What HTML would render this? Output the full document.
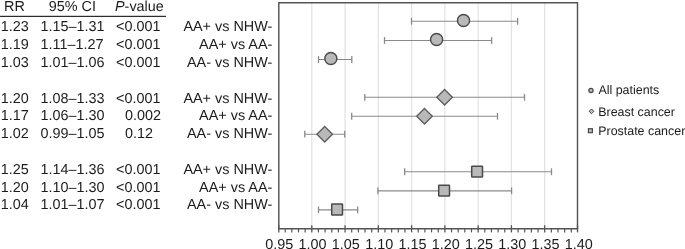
<!DOCTYPE html><html><head><meta charset="utf-8"><style>
html,body{margin:0;padding:0;background:#fff;}
svg{display:block;filter:blur(0.3px);}
text{font-family:"Liberation Sans",sans-serif;text-rendering:geometricPrecision;}
</style></head><body>
<svg width="685" height="249" viewBox="0 0 685 249">
<rect width="685" height="249" fill="#fff"/>
<g font-size="14.4" fill="#1c1c1c">
<text x="4.0" y="10.8">RR</text>
<text x="48.8" y="10.8">95% CI</text>
<text x="115.0" y="10.8"><tspan font-style="italic">P</tspan>-value</text>
</g>
<rect x="0" y="15.8" width="166" height="1.1" fill="#161616"/>
<g font-size="14.4" fill="#1c1c1c">
<text x="0.7" y="31.30">1.23</text>
<text x="40.6" y="31.30">1.15–1.31</text>
<text x="116.1" y="31.30">&lt;0.001</text>
<text x="272.3" y="31.30" text-anchor="end">AA+ vs NHW-</text>
<text x="0.7" y="49.10">1.19</text>
<text x="40.6" y="49.10">1.11–1.27</text>
<text x="116.1" y="49.10">&lt;0.001</text>
<text x="272.3" y="49.10" text-anchor="end">AA+ vs AA-</text>
<text x="0.7" y="66.90">1.03</text>
<text x="40.6" y="66.90">1.01–1.06</text>
<text x="116.1" y="66.90">&lt;0.001</text>
<text x="272.3" y="66.90" text-anchor="end">AA- vs NHW-</text>
<text x="0.7" y="102.50">1.20</text>
<text x="40.6" y="102.50">1.08–1.33</text>
<text x="116.1" y="102.50">&lt;0.001</text>
<text x="272.3" y="102.50" text-anchor="end">AA+ vs NHW-</text>
<text x="0.7" y="120.30">1.17</text>
<text x="40.6" y="120.30">1.06–1.30</text>
<text x="124.9" y="120.30">0.002</text>
<text x="272.3" y="120.30" text-anchor="end">AA+ vs AA-</text>
<text x="0.7" y="138.10">1.02</text>
<text x="40.6" y="138.10">0.99–1.05</text>
<text x="124.9" y="138.10">0.12</text>
<text x="272.3" y="138.10" text-anchor="end">AA- vs NHW-</text>
<text x="0.7" y="173.70">1.25</text>
<text x="40.6" y="173.70">1.14–1.36</text>
<text x="116.1" y="173.70">&lt;0.001</text>
<text x="272.3" y="173.70" text-anchor="end">AA+ vs NHW-</text>
<text x="0.7" y="191.50">1.20</text>
<text x="40.6" y="191.50">1.10–1.30</text>
<text x="116.1" y="191.50">&lt;0.001</text>
<text x="272.3" y="191.50" text-anchor="end">AA+ vs AA-</text>
<text x="0.7" y="209.30">1.04</text>
<text x="40.6" y="209.30">1.01–1.07</text>
<text x="116.1" y="209.30">&lt;0.001</text>
<text x="272.3" y="209.30" text-anchor="end">AA- vs NHW-</text>
</g>
<line x1="311.80" y1="3" x2="311.80" y2="228" stroke="#e3e3e3" stroke-width="1.25"/>
<line x1="345.07" y1="3" x2="345.07" y2="228" stroke="#e3e3e3" stroke-width="1.25"/>
<line x1="378.34" y1="3" x2="378.34" y2="228" stroke="#e3e3e3" stroke-width="1.25"/>
<line x1="411.61" y1="3" x2="411.61" y2="228" stroke="#e3e3e3" stroke-width="1.25"/>
<line x1="444.88" y1="3" x2="444.88" y2="228" stroke="#e3e3e3" stroke-width="1.25"/>
<line x1="478.15" y1="3" x2="478.15" y2="228" stroke="#e3e3e3" stroke-width="1.25"/>
<line x1="511.42" y1="3" x2="511.42" y2="228" stroke="#e3e3e3" stroke-width="1.25"/>
<line x1="544.69" y1="3" x2="544.69" y2="228" stroke="#e3e3e3" stroke-width="1.25"/>
<line x1="411.50" y1="21.3" x2="517.60" y2="21.3" stroke="#8a8a8a" stroke-width="1.1"/>
<line x1="411.50" y1="17.90" x2="411.50" y2="24.70" stroke="#8a8a8a" stroke-width="1.3"/>
<line x1="517.60" y1="17.90" x2="517.60" y2="24.70" stroke="#8a8a8a" stroke-width="1.3"/>
<line x1="384.50" y1="40.5" x2="491.60" y2="40.5" stroke="#8a8a8a" stroke-width="1.1"/>
<line x1="384.50" y1="37.10" x2="384.50" y2="43.90" stroke="#8a8a8a" stroke-width="1.3"/>
<line x1="491.60" y1="37.10" x2="491.60" y2="43.90" stroke="#8a8a8a" stroke-width="1.3"/>
<line x1="318.50" y1="59.5" x2="351.80" y2="59.5" stroke="#8a8a8a" stroke-width="1.1"/>
<line x1="318.50" y1="56.10" x2="318.50" y2="62.90" stroke="#8a8a8a" stroke-width="1.3"/>
<line x1="351.80" y1="56.10" x2="351.80" y2="62.90" stroke="#8a8a8a" stroke-width="1.3"/>
<line x1="364.80" y1="97.3" x2="524.50" y2="97.3" stroke="#8a8a8a" stroke-width="1.1"/>
<line x1="364.80" y1="93.90" x2="364.80" y2="100.70" stroke="#8a8a8a" stroke-width="1.3"/>
<line x1="524.50" y1="93.90" x2="524.50" y2="100.70" stroke="#8a8a8a" stroke-width="1.3"/>
<line x1="351.70" y1="116.25" x2="497.50" y2="116.25" stroke="#8a8a8a" stroke-width="1.1"/>
<line x1="351.70" y1="112.85" x2="351.70" y2="119.65" stroke="#8a8a8a" stroke-width="1.3"/>
<line x1="497.50" y1="112.85" x2="497.50" y2="119.65" stroke="#8a8a8a" stroke-width="1.3"/>
<line x1="304.80" y1="134.2" x2="344.70" y2="134.2" stroke="#8a8a8a" stroke-width="1.1"/>
<line x1="304.80" y1="130.80" x2="304.80" y2="137.60" stroke="#8a8a8a" stroke-width="1.3"/>
<line x1="344.70" y1="130.80" x2="344.70" y2="137.60" stroke="#8a8a8a" stroke-width="1.3"/>
<line x1="404.70" y1="171.75" x2="551.50" y2="171.75" stroke="#8a8a8a" stroke-width="1.1"/>
<line x1="404.70" y1="168.35" x2="404.70" y2="175.15" stroke="#8a8a8a" stroke-width="1.3"/>
<line x1="551.50" y1="168.35" x2="551.50" y2="175.15" stroke="#8a8a8a" stroke-width="1.3"/>
<line x1="377.90" y1="190.85" x2="511.60" y2="190.85" stroke="#8a8a8a" stroke-width="1.1"/>
<line x1="377.90" y1="187.45" x2="377.90" y2="194.25" stroke="#8a8a8a" stroke-width="1.3"/>
<line x1="511.60" y1="187.45" x2="511.60" y2="194.25" stroke="#8a8a8a" stroke-width="1.3"/>
<line x1="318.50" y1="209.85" x2="357.70" y2="209.85" stroke="#8a8a8a" stroke-width="1.1"/>
<line x1="318.50" y1="206.45" x2="318.50" y2="213.25" stroke="#8a8a8a" stroke-width="1.3"/>
<line x1="357.70" y1="206.45" x2="357.70" y2="213.25" stroke="#8a8a8a" stroke-width="1.3"/>
<circle cx="463.5" cy="20.5" r="6.05" fill="#b9b9b9" stroke="#4a4a4a" stroke-width="1.4"/>
<circle cx="436.6" cy="39.5" r="6.05" fill="#b9b9b9" stroke="#4a4a4a" stroke-width="1.4"/>
<circle cx="330.85" cy="58.5" r="6.05" fill="#b9b9b9" stroke="#4a4a4a" stroke-width="1.4"/>
<polygon points="444.6,89.5 452.40000000000003,97.3 444.6,105.1 436.8,97.3" fill="#b9b9b9" stroke="#5e5e5e" stroke-width="1.35"/>
<polygon points="424.5,108.4 432.3,116.2 424.5,124.0 416.7,116.2" fill="#b9b9b9" stroke="#5e5e5e" stroke-width="1.35"/>
<polygon points="324.7,126.39999999999999 332.5,134.2 324.7,142.0 316.9,134.2" fill="#b9b9b9" stroke="#5e5e5e" stroke-width="1.35"/>
<rect x="471.70" y="166.20" width="10.8" height="10.8" rx="0.5" fill="#b9b9b9" stroke="#4a4a4a" stroke-width="1.5"/>
<rect x="438.70" y="185.20" width="10.8" height="10.8" rx="0.5" fill="#b9b9b9" stroke="#4a4a4a" stroke-width="1.5"/>
<rect x="331.70" y="204.10" width="10.8" height="10.8" rx="0.5" fill="#b9b9b9" stroke="#4a4a4a" stroke-width="1.5"/>
<path d="M278.8,228.7 V2.8 H577.5 V228.7" fill="none" stroke="#555555" stroke-width="1.45"/>
<line x1="278.1" y1="228.7" x2="578.2" y2="228.7" stroke="#555555" stroke-width="1.4"/>
<line x1="278.80" y1="225.2" x2="278.80" y2="232.4" stroke="#555555" stroke-width="1.3"/>
<line x1="285.18" y1="228.7" x2="285.18" y2="232.4" stroke="#555555" stroke-width="1.2"/>
<line x1="291.84" y1="228.7" x2="291.84" y2="232.4" stroke="#555555" stroke-width="1.2"/>
<line x1="298.49" y1="228.7" x2="298.49" y2="232.4" stroke="#555555" stroke-width="1.2"/>
<line x1="305.15" y1="228.7" x2="305.15" y2="232.4" stroke="#555555" stroke-width="1.2"/>
<line x1="311.80" y1="225.2" x2="311.80" y2="232.4" stroke="#555555" stroke-width="1.3"/>
<line x1="318.45" y1="228.7" x2="318.45" y2="232.4" stroke="#555555" stroke-width="1.2"/>
<line x1="325.11" y1="228.7" x2="325.11" y2="232.4" stroke="#555555" stroke-width="1.2"/>
<line x1="331.76" y1="228.7" x2="331.76" y2="232.4" stroke="#555555" stroke-width="1.2"/>
<line x1="338.42" y1="228.7" x2="338.42" y2="232.4" stroke="#555555" stroke-width="1.2"/>
<line x1="345.07" y1="225.2" x2="345.07" y2="232.4" stroke="#555555" stroke-width="1.3"/>
<line x1="351.72" y1="228.7" x2="351.72" y2="232.4" stroke="#555555" stroke-width="1.2"/>
<line x1="358.38" y1="228.7" x2="358.38" y2="232.4" stroke="#555555" stroke-width="1.2"/>
<line x1="365.03" y1="228.7" x2="365.03" y2="232.4" stroke="#555555" stroke-width="1.2"/>
<line x1="371.69" y1="228.7" x2="371.69" y2="232.4" stroke="#555555" stroke-width="1.2"/>
<line x1="378.34" y1="225.2" x2="378.34" y2="232.4" stroke="#555555" stroke-width="1.3"/>
<line x1="384.99" y1="228.7" x2="384.99" y2="232.4" stroke="#555555" stroke-width="1.2"/>
<line x1="391.65" y1="228.7" x2="391.65" y2="232.4" stroke="#555555" stroke-width="1.2"/>
<line x1="398.30" y1="228.7" x2="398.30" y2="232.4" stroke="#555555" stroke-width="1.2"/>
<line x1="404.96" y1="228.7" x2="404.96" y2="232.4" stroke="#555555" stroke-width="1.2"/>
<line x1="411.61" y1="225.2" x2="411.61" y2="232.4" stroke="#555555" stroke-width="1.3"/>
<line x1="418.26" y1="228.7" x2="418.26" y2="232.4" stroke="#555555" stroke-width="1.2"/>
<line x1="424.92" y1="228.7" x2="424.92" y2="232.4" stroke="#555555" stroke-width="1.2"/>
<line x1="431.57" y1="228.7" x2="431.57" y2="232.4" stroke="#555555" stroke-width="1.2"/>
<line x1="438.23" y1="228.7" x2="438.23" y2="232.4" stroke="#555555" stroke-width="1.2"/>
<line x1="444.88" y1="225.2" x2="444.88" y2="232.4" stroke="#555555" stroke-width="1.3"/>
<line x1="451.53" y1="228.7" x2="451.53" y2="232.4" stroke="#555555" stroke-width="1.2"/>
<line x1="458.19" y1="228.7" x2="458.19" y2="232.4" stroke="#555555" stroke-width="1.2"/>
<line x1="464.84" y1="228.7" x2="464.84" y2="232.4" stroke="#555555" stroke-width="1.2"/>
<line x1="471.50" y1="228.7" x2="471.50" y2="232.4" stroke="#555555" stroke-width="1.2"/>
<line x1="478.15" y1="225.2" x2="478.15" y2="232.4" stroke="#555555" stroke-width="1.3"/>
<line x1="484.80" y1="228.7" x2="484.80" y2="232.4" stroke="#555555" stroke-width="1.2"/>
<line x1="491.46" y1="228.7" x2="491.46" y2="232.4" stroke="#555555" stroke-width="1.2"/>
<line x1="498.11" y1="228.7" x2="498.11" y2="232.4" stroke="#555555" stroke-width="1.2"/>
<line x1="504.77" y1="228.7" x2="504.77" y2="232.4" stroke="#555555" stroke-width="1.2"/>
<line x1="511.42" y1="225.2" x2="511.42" y2="232.4" stroke="#555555" stroke-width="1.3"/>
<line x1="518.07" y1="228.7" x2="518.07" y2="232.4" stroke="#555555" stroke-width="1.2"/>
<line x1="524.73" y1="228.7" x2="524.73" y2="232.4" stroke="#555555" stroke-width="1.2"/>
<line x1="531.38" y1="228.7" x2="531.38" y2="232.4" stroke="#555555" stroke-width="1.2"/>
<line x1="538.04" y1="228.7" x2="538.04" y2="232.4" stroke="#555555" stroke-width="1.2"/>
<line x1="544.69" y1="225.2" x2="544.69" y2="232.4" stroke="#555555" stroke-width="1.3"/>
<line x1="551.34" y1="228.7" x2="551.34" y2="232.4" stroke="#555555" stroke-width="1.2"/>
<line x1="558.00" y1="228.7" x2="558.00" y2="232.4" stroke="#555555" stroke-width="1.2"/>
<line x1="564.65" y1="228.7" x2="564.65" y2="232.4" stroke="#555555" stroke-width="1.2"/>
<line x1="571.31" y1="228.7" x2="571.31" y2="232.4" stroke="#555555" stroke-width="1.2"/>
<line x1="577.50" y1="225.2" x2="577.50" y2="232.4" stroke="#555555" stroke-width="1.3"/>
<g font-size="14.4" fill="#1c1c1c" text-anchor="middle">
<text x="279.33" y="249.0">0.95</text>
<text x="312.60" y="249.0">1.00</text>
<text x="345.87" y="249.0">1.05</text>
<text x="379.14" y="249.0">1.10</text>
<text x="412.41" y="249.0">1.15</text>
<text x="445.68" y="249.0">1.20</text>
<text x="478.95" y="249.0">1.25</text>
<text x="512.22" y="249.0">1.30</text>
<text x="545.49" y="249.0">1.35</text>
<text x="578.76" y="249.0">1.40</text>
</g>
<circle cx="591.0" cy="90.4" r="2.1" fill="#b9b9b9" stroke="#4a4a4a" stroke-width="1.25"/>
<polygon points="591.5,108.9 593.9,111.3 591.5,113.7 589.1,111.3" fill="#b9b9b9" stroke="#4a4a4a" stroke-width="1.0"/>
<rect x="588.4" y="128.7" width="4.0" height="4.0" fill="#b9b9b9" stroke="#4a4a4a" stroke-width="1.2"/>
<g font-size="12.45" fill="#1c1c1c">
<text x="598.4" y="93.6">All patients</text>
<text x="598.2" y="115.8">Breast cancer</text>
<text x="598.2" y="134.8">Prostate cancer</text>
</g>
</svg></body></html>
